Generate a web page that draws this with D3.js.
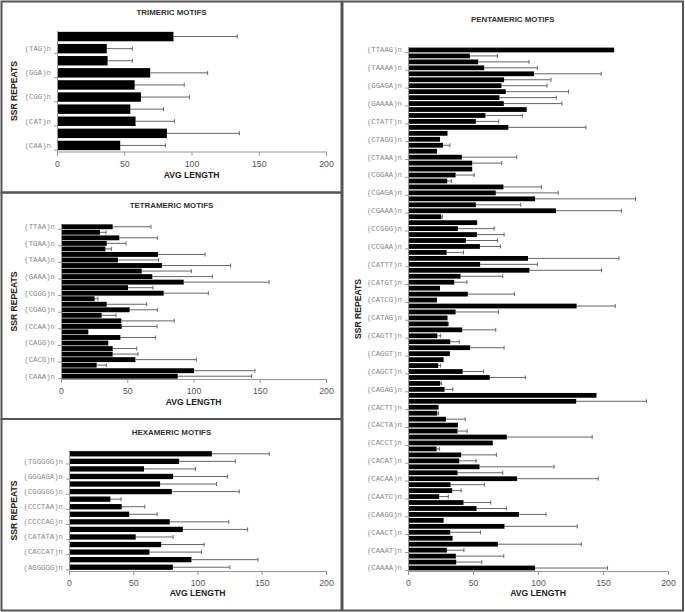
<!DOCTYPE html>
<html>
<head>
<meta charset="utf-8">
<script src="https://cdn.jsdelivr.net/npm/d3@7"></script>
<style>
  body { margin: 0; background: #fff; }
  svg { display: block; }
</style>
</head>
<body>
<script>
// values listed top to bottom as drawn; sd = length of the error bar
const triLabels = ["(TAG)n", "(GGA)n", "(CGG)n", "(CAT)n", "(CAA)n"];
const triValues = [86.6, 37.0, 37.6, 69.3, 57.7, 62.4, 54.5, 58.4, 81.7, 47.0];
const triSd = [47.4, 19.0, 18.4, 42.7, 36.9, 36.1, 24.7, 29.0, 53.9, 33.7];

const tetraLabels = ["(TTAA)n", "(TGAA)n", "(TAAA)n", "(GAAA)n", "(CGGG)n",
                     "(CGAG)n", "(CCAA)n", "(CAGG)n", "(CACG)n", "(CAAA)n"];
const tetraValues = [39.0, 29.4, 44.0, 34.5, 33.5, 73.2, 43.0, 76.2, 60.9, 68.9,
                     92.6, 50.6, 77.5, 25.4, 34.5, 51.8, 30.7, 45.5, 45.8, 20.6,
                     44.8, 35.7, 39.0, 39.0, 56.1, 26.9, 100.4, 88.1];
const tetraSd = [28.9, 4.6, 28.7, 14.6, 4.5, 35.5, 30.7, 51.8, 37.5, 45.3,
                 64.4, 18.8, 33.7, 2.5, 30.2, 20.9, 10.8, 40.0, 26.7, 0,
                 26.6, 0, 18.1, 19.1, 46.0, 7.3, 46.0, 55.8];

const hexaLabels = ["(TGGGGG)n", "(GGGAGA)n", "(CGGGGG)n", "(CCCTAA)n",
                    "(CCCCAG)n", "(CATATA)n", "(CACCAT)n", "(AGGGGG)n"];
const hexaValues = [111.2, 85.7, 58.4, 81.0, 70.9, 80.0, 32.2, 41.0,
                    46.8, 78.4, 88.6, 51.9, 71.7, 62.6, 95.3, 80.8];
const hexaSd = [44.6, 43.7, 40.0, 42.4, 43.9, 52.5, 8.3, 18.0,
                21.8, 46.0, 50.4, 29.1, 33.5, 40.5, 51.7, 44.4];

const pentaLabels = ["(TTAAG)n", "(TAAAA)n", "(GGAGA)n", "(GAAAA)n", "(CTATT)n",
                     "(CTAGG)n", "(CTAAA)n", "(CGGAA)n", "(CGAGA)n", "(CGAAA)n",
                     "(CCGGG)n", "(CCGAA)n", "(CATTT)n", "(CATGT)n", "(CATCG)n",
                     "(CATAG)n", "(CAGTT)n", "(CAGGT)n", "(CAGCT)n", "(CAGAG)n",
                     "(CACTT)n", "(CACTA)n", "(CACCT)n", "(CACAT)n", "(CACAA)n",
                     "(CAATC)n", "(CAAGG)n", "(CAACT)n", "(CAAAT)n", "(CAAAA)n"];
const pentaValues = [158.6, 47.6, 54.0, 58.6, 96.9, 73.9, 71.9, 75.2, 70.3, 73.7,
                     91.3, 59.6, 52.2, 77.2, 30.4, 24.6, 26.9, 22.3, 41.4, 49.4,
                     49.4, 36.6, 30.2, 73.4, 67.5, 97.7, 52.2, 113.8, 25.6, 53.2,
                     38.4, 53.0, 44.5, 55.3, 29.7, 92.3, 55.5, 93.4, 40.4, 35.6,
                     24.6, 46.0, 22.3, 129.7, 36.6, 30.4, 30.7, 41.7, 22.5, 32.5,
                     47.8, 32.2, 27.4, 23.3, 42.0, 62.9, 24.8, 28.1, 145.0, 129.4,
                     23.5, 22.5, 29.2, 38.4, 38.1, 76.0, 65.2, 22.0, 40.9, 39.4,
                     55.0, 38.1, 83.9, 32.7, 34.0, 24.0, 42.7, 52.7, 85.4, 27.4,
                     74.2, 32.5, 34.3, 69.1, 29.9, 36.8, 37.1, 97.7];
const pentaSd = [0, 21.2, 39.1, 40.9, 51.7, 36.1, 35.0, 48.3, 43.8, 44.7,
                 0, 28.4, 17.6, 59.6, 0, 0, 5.3, 0, 42.2, 22.7,
                 0, 14.3, 3.1, 29.2, 48.1, 77.3, 34.5, 50.4, 1.0, 0,
                 27.9, 20.9, 24.3, 15.8, 13.0, 69.9, 44.0, 55.5, 32.5, 9.7,
                 0, 35.9, 0, 29.7, 33.0, 0, 0.5, 25.8, 2.6, 6.9,
                 26.1, 0, 0, 1.8, 16.1, 27.4, 1.0, 6.4, 0, 54.0,
                 0, 1.0, 14.8, 0, 7.4, 65.7, 0, 2.3, 27.1, 13.0,
                 57.3, 34.8, 62.4, 26.1, 6.9, 7.0, 21.0, 23.0, 20.8, 0,
                 56.0, 23.3, 0, 64.2, 13.1, 36.9, 19.7, 55.8];

const xTicks = [0, 50, 100, 150, 200];

const svg = d3.select("body").append("svg")
    .attr("width", 685)
    .attr("height", 612);

function drawPanel(p) {
    const g = svg.append("g");
    const n = p.values.length;

    g.append("rect")
        .attr("x", p.box[0]).attr("y", p.box[1])
        .attr("width", p.box[2] - p.box[0]).attr("height", p.box[3] - p.box[1])
        .attr("fill", "none")
        .attr("stroke", "#555")
        .attr("stroke-width", 2);

    const x = d3.scaleLinear().domain([0, 200]).range([p.left, p.right]);
    const y = d3.scaleBand().domain(d3.range(n)).range([p.top, p.bottom])
        .paddingInner(p.pad).paddingOuter(p.pad / 2);

    const rows = p.values.map((v, i) => ({ i: i, v: v, sd: p.sd[i] }));

    // error bars (positive side only)
    const err = g.append("g").attr("stroke", "#666").attr("stroke-width", 1);
    const withErr = rows.filter(d => d.sd > 0);
    err.selectAll("line.e")
        .data(withErr)
        .join("line")
        .attr("class", "e")
        .attr("x1", d => x(d.v))
        .attr("x2", d => x(d.v + d.sd))
        .attr("y1", d => y(d.i) + y.bandwidth() / 2)
        .attr("y2", d => y(d.i) + y.bandwidth() / 2);
    err.selectAll("line.cap")
        .data(withErr)
        .join("line")
        .attr("class", "cap")
        .attr("x1", d => x(d.v + d.sd))
        .attr("x2", d => x(d.v + d.sd))
        .attr("y1", d => y(d.i) + y.bandwidth() / 2 - 2)
        .attr("y2", d => y(d.i) + y.bandwidth() / 2 + 2);

    g.selectAll("rect.bar")
        .data(rows)
        .join("rect")
        .attr("class", "bar")
        .attr("x", x(0))
        .attr("y", d => y(d.i))
        .attr("width", d => x(d.v) - x(0))
        .attr("height", y.bandwidth())
        .attr("fill", "#000");

    // x axis
    const xAxis = g.append("g")
        .attr("transform", `translate(0,${p.bottom})`)
        .call(d3.axisBottom(x).tickValues(xTicks).tickSize(4).tickPadding(5));
    xAxis.select(".domain").attr("stroke", "#999");
    xAxis.selectAll(".tick line").attr("stroke", "#999");
    xAxis.selectAll(".tick text")
        .attr("fill", "#555")
        .style("font-family", "'Liberation Sans', Arial, sans-serif")
        .style("font-size", "8.7px");

    // y axis: labels on every step-th bar counted from the bottom
    const labeled = d3.range(n).filter(i => (n - 1 - i) % p.step === 0);
    const yAxis = g.append("g")
        .attr("transform", `translate(${p.left},0)`)
        .call(d3.axisLeft(y).tickValues(labeled).tickSize(0).tickPadding(6)
            .tickFormat(i => p.labels[Math.floor(i / p.step)]));
    yAxis.select(".domain").attr("stroke", "#999");
    yAxis.selectAll(".tick text")
        .attr("fill", "#888")
        .style("font-family", "'Liberation Mono', 'Courier New', monospace")
        .style("font-size", "7.3px");

    const step = y.step();
    const bounds = d3.range(0, n + 1, p.step).map(k => p.bottom - y.paddingOuter() * step - k * step);
    g.selectAll("line.ytick")
        .data(bounds.filter(b => b >= p.top - 0.5))
        .join("line")
        .attr("class", "ytick")
        .attr("x1", p.left - 3).attr("x2", p.left)
        .attr("y1", d => d).attr("y2", d => d)
        .attr("stroke", "#999");

    const bold = "'Liberation Sans', Arial, sans-serif";

    g.append("text")
        .attr("x", (p.box[0] + p.box[2]) / 2)
        .attr("y", p.titleY)
        .attr("text-anchor", "middle")
        .attr("dominant-baseline", "middle")
        .style("font-family", bold)
        .style("font-weight", "bold")
        .style("font-size", "7.9px")
        .attr("fill", "#333")
        .text(p.title);

    g.append("text")
        .attr("x", (p.left + p.right) / 2)
        .attr("y", p.xTitleY)
        .attr("text-anchor", "middle")
        .attr("dominant-baseline", "middle")
        .style("font-family", bold)
        .style("font-weight", "bold")
        .style("font-size", "8.6px")
        .attr("fill", "#222")
        .text("AVG LENGTH");

    g.append("text")
        .attr("transform", `translate(${p.yTitleX},${(p.top + p.bottom) / 2}) rotate(-90)`)
        .attr("text-anchor", "middle")
        .attr("dominant-baseline", "middle")
        .style("font-family", bold)
        .style("font-weight", "bold")
        .style("font-size", "8.6px")
        .attr("fill", "#222")
        .text("SSR REPEATS");
}

drawPanel({
    box: [1.5, 1.5, 341.5, 192.5], title: "TRIMERIC MOTIFS", titleY: 13,
    left: 57, right: 326, top: 30.5, bottom: 151.5, xTitleY: 176, yTitleX: 15,
    values: triValues, sd: triSd, labels: triLabels, step: 2, pad: 0.22
});

drawPanel({
    box: [1.5, 192.5, 341.5, 419], title: "TETRAMERIC MOTIFS", titleY: 206,
    left: 61, right: 326, top: 224, bottom: 379, xTitleY: 403, yTitleX: 15,
    values: tetraValues, sd: tetraSd, labels: tetraLabels, step: 3, pad: 0.12
});

drawPanel({
    box: [1.5, 419, 341.5, 610.5], title: "HEXAMERIC MOTIFS", titleY: 432.7,
    left: 69, right: 326, top: 450, bottom: 571, xTitleY: 594, yTitleX: 15,
    values: hexaValues, sd: hexaSd, labels: hexaLabels, step: 2, pad: 0.3
});

drawPanel({
    box: [342.5, 1.5, 683, 610.5], title: "PENTAMERIC MOTIFS", titleY: 20,
    left: 408, right: 668, top: 47, bottom: 571, xTitleY: 594, yTitleX: 359,
    values: pentaValues, sd: pentaSd, labels: pentaLabels, step: 3, pad: 0.2
});
</script>
</body>
</html>
